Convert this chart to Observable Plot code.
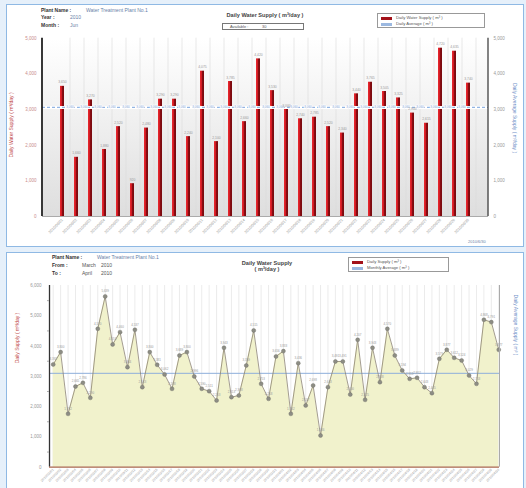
<!DOCTYPE html>
<html><head><meta charset="utf-8">
<script src="https://cdn.jsdelivr.net/npm/d3@7"></script>
<script src="https://cdn.jsdelivr.net/npm/@observablehq/plot@0.6"></script>
<style>
body{margin:0;width:526px;height:488px;overflow:hidden;background:#e6f0fa;font-family:Arial,"Liberation Sans",sans-serif;position:relative}
.frame{position:absolute;background:#fff;border:1.5px solid #8fb9e4;box-sizing:border-box}
.t{position:absolute;font-size:5px;color:#555;white-space:nowrap;line-height:1}
.b{font-weight:bold;color:#333}
.v{color:#6a7fa8}
.ttl{position:absolute;font-size:5.6px;font-weight:bold;color:#444;white-space:nowrap;text-align:center;line-height:1.1}
.lg{position:absolute;border:1px solid #999;background:#fff;box-sizing:border-box}
.lg div{font-size:4.2px;color:#555;white-space:nowrap;line-height:6px;height:6px;display:flex;align-items:center}
.sw{display:inline-block;width:11px;height:3px;margin:0 4px 0 3px}
.rot{position:absolute;font-size:5px;white-space:nowrap;transform-origin:center center}
svg.chart{position:absolute;left:0}
</style></head>
<body>
<div class="frame" style="left:6px;top:4px;width:518px;height:243px"></div>
<div class="frame" style="left:6px;top:252px;width:518px;height:240px"></div>

<!-- top header -->
<div class="t b" style="left:41px;top:8px">Plant Name :</div>
<div class="t v" style="left:86px;top:8px">Water Treatment Plant No.1</div>
<div class="t b" style="left:41px;top:15px">Year :</div>
<div class="t v" style="left:70px;top:15px">2010</div>
<div class="t b" style="left:41px;top:23px">Month :</div>
<div class="t v" style="left:70px;top:23px">Jun</div>
<div class="ttl" style="left:212px;top:12px;width:106px">Daily Water Supply ( m³/day )</div>
<div style="position:absolute;left:222px;top:23px;width:82px;height:7px;border:1px solid #777;box-sizing:border-box;background:#fff"></div>
<div class="t" style="left:230px;top:24.5px;font-size:4px">Available :</div>
<div class="t" style="left:262px;top:24.5px;font-size:4px">30</div>
<div class="lg" style="left:377px;top:13px;width:108px;height:15px;padding-top:1px">
  <div><span class="sw" style="background:#a3121a"></span>Daily Water Supply ( m³ )</div>
  <div><span class="sw" style="background:#9bb8e0"></span>Daily Average ( m³ )</div>
</div>
<div class="rot" style="left:-22px;top:122px;color:#c04848;transform:rotate(-90deg)">Daily Water Supply ( m³/day )</div>
<div class="rot" style="left:480px;top:115px;color:#6f8fc8;transform:rotate(90deg)">Daily Average Supply ( m³/day )</div>
<div class="t" style="left:468px;top:240px;font-size:4px;color:#6a7fa8">2010/6/30</div>

<!-- bottom header -->
<div class="t b" style="left:52px;top:255px">Plant Name :</div>
<div class="t v" style="left:97px;top:255px">Water Treatment Plant No.1</div>
<div class="t b" style="left:52px;top:263px">From :</div>
<div class="t" style="left:82px;top:263px">March</div>
<div class="t" style="left:101px;top:263px">2010</div>
<div class="t b" style="left:52px;top:271px">To :</div>
<div class="t" style="left:82px;top:271px">April</div>
<div class="t" style="left:101px;top:271px">2010</div>
<div class="ttl" style="left:225px;top:260px;width:84px">Daily Water Supply<br>( m³/day )</div>
<div class="lg" style="left:348px;top:257px;width:101px;height:15px;padding-top:1px">
  <div><span class="sw" style="background:#a3121a"></span>Daily Supply ( m³ )</div>
  <div><span class="sw" style="background:#9bb8e0"></span>Monthly Average ( m³ )</div>
</div>
<div class="rot" style="left:-8px;top:335px;color:#c04848;transform:rotate(-90deg)">Daily Supply ( m³/day )</div>
<div class="rot" style="left:486px;top:322px;color:#6f8fc8;transform:rotate(90deg)">Daily Average Supply ( m³ )</div>

<div id="top"></div>
<div id="bot"></div>
<script>
// ---------- data ----------
const topDates = [];
for (let d = 1; d <= 30; d++) topDates.push(`2010/06/${String(d).padStart(2,"0")}`);
const topValues = [3650,1660,3270,1880,2520,920,2480,3290,3290,2240,4075,2100,3785,2660,4420,
                   3530,3000,2740,2785,2520,2340,3440,3765,3505,3325,2900,2615,4720,4635,3740];
const topAvg = 3060;
const topTicks = [0,1000,2000,3000,4000,5000];

const botDates = [];
for (let d = 1; d <= 31; d++) botDates.push(`2010/03/${String(d).padStart(2,"0")}`);
for (let d = 1; d <= 30; d++) botDates.push(`2010/04/${String(d).padStart(2,"0")}`);
const botValues = [3392,3800,1762,2665,2786,2290,4570,5639,4053,4460,3304,4537,2643,3800,3381,
                   3062,2588,3689,3800,2996,2590,2511,2203,3943,2313,2368,3359,4515,2753,2258,
                   3656,3833,1762,3436,2037,2698,1046,2643,3491,3491,2400,4207,2225,3943,2808,
                   4570,3689,3194,2918,2952,2643,2445,3579,3877,3612,3524,3029,2753,4868,4791,3877];
const botAvg = 3100;
const botTicks = [0,1000,2000,3000,4000,5000,6000];
const botMinor = [500,1500,2500,3500,4500,5500];

// ---------- top chart ----------
const topData = topDates.map((date, i) => ({date, value: topValues[i]}));
const pIn = 0.7, pOut = 0.23;
const topChart = Plot.plot({
  width: 526, height: 248,
  marginLeft: 42, marginRight: 38, marginTop: 37.7, marginBottom: 32,
  style: {background: "transparent", fontFamily: "Arial, Liberation Sans, sans-serif", fontSize: "4.5px", color: "#999", overflow: "visible"},
  x: {domain: topDates, paddingInner: pIn, paddingOuter: pOut, label: null},
  y: {domain: [0, 5000], label: null},
  marks: [
    Plot.frame({fill: "url(#bgGrad)", stroke: null}),
    Plot.ruleX(topDates, {x: d => d, stroke: "#dadada", strokeWidth: 0.6, dx: 7.5}),
    Plot.barY(topData, {x: "date", y: "value", fill: "url(#barGrad)"}),
    Plot.ruleY([topAvg], {stroke: "white", strokeWidth: 3}),
    Plot.ruleY([topAvg], {stroke: "#93b5e3", strokeWidth: 1.2, strokeDasharray: "3,2"}),
    Plot.text(topDates.slice(0, -1), {x: d => d, y: () => topAvg, text: () => topAvg, dx: 7.5, fontSize: 3, fill: "#7fa3d6", stroke: "white", strokeWidth: 1.2}),
    Plot.text(topData, {x: "date", y: "value", text: d => d.value, dy: -4, fontSize: 3.4, fill: "#999"}),
    Plot.ruleY([0], {stroke: "#999", strokeWidth: 0.8}),
    Plot.axisY({anchor: "left", ticks: topTicks, tickSize: 0, tickPadding: 6, fill: "#c98c8c", label: null}),
    Plot.axisY({anchor: "right", ticks: topTicks, tickSize: 0, tickPadding: 5, fill: "#999", label: null}),
    Plot.axisX({tickRotate: -45, tickSize: 0, tickPadding: 3, fontSize: 3.8, fill: "#9a9a9a", label: null})
  ]
});
topChart.classList.add("chart");
topChart.style.top = "0px";
{
  const svg = d3.select(topChart);
  const defs = svg.insert("defs", ":first-child");
  const bg = defs.append("linearGradient").attr("id", "bgGrad").attr("x1", 0).attr("y1", 0).attr("x2", 0).attr("y2", 1);
  bg.append("stop").attr("offset", "0%").attr("stop-color", "#ffffff");
  bg.append("stop").attr("offset", "100%").attr("stop-color", "#dedede");
  const bar = defs.append("linearGradient").attr("id", "barGrad").attr("x1", 0).attr("y1", 0).attr("x2", 1).attr("y2", 0);
  bar.append("stop").attr("offset", "0%").attr("stop-color", "#ec2a30");
  bar.append("stop").attr("offset", "40%").attr("stop-color", "#d01a22");
  bar.append("stop").attr("offset", "55%").attr("stop-color", "#8a0c12");
  bar.append("stop").attr("offset", "100%").attr("stop-color", "#760a0e");
  const xr = topChart.scale("x").range, yr = topChart.scale("y").range;
  svg.append("line").attr("x1", xr[0]).attr("x2", xr[0]).attr("y1", yr[0]).attr("y2", yr[1]).attr("stroke", "#222").attr("stroke-width", 1.8);
  svg.append("line").attr("x1", xr[1]).attr("x2", xr[1]).attr("y1", yr[0]).attr("y2", yr[1]).attr("stroke", "#333").attr("stroke-width", 1.2);
}
document.getElementById("top").appendChild(topChart);

// ---------- bottom chart ----------
const botData = botValues.map((value, i) => ({i, value, date: botDates[i]}));
const idx = botData.map(d => d.i);
const botChart = Plot.plot({
  width: 526, height: 238,
  marginLeft: 49, marginRight: 27, marginTop: 35, marginBottom: 21.3,
  style: {background: "transparent", fontFamily: "Arial, Liberation Sans, sans-serif", fontSize: "4.5px", color: "#999", overflow: "visible"},
  x: {type: "linear", domain: [-0.5, 60.1], label: null},
  y: {type: "linear", domain: [0, 6000], label: null},
  marks: [
    Plot.ruleX(idx, {x: d => d, stroke: "#dedede", strokeWidth: 0.6}),
    Plot.areaY(botData, {x: "i", y: "value", fill: "#f1f2cc"}),
    Plot.ruleY([botAvg], {stroke: "#8eaedb", strokeWidth: 1}),
    Plot.lineY(botData, {x: "i", y: "value", stroke: "#8c8372", strokeWidth: 0.8}),
    Plot.dot(botData, {x: "i", y: "value", r: 2, fill: "#8d8d84", stroke: "#6f6f68", strokeWidth: 0.4}),
    Plot.text(botData, {x: "i", y: "value", text: d => d.value, dy: -5, fontSize: 3, fill: "#999"}),
    Plot.ruleX([-0.5], {x: d => d, stroke: "#333", strokeWidth: 1.3}),
    Plot.ruleX([60.1], {x: d => d, stroke: "#aaa", strokeWidth: 1}),
    Plot.ruleY([0], {stroke: "#a8664c", strokeWidth: 1.2}),
    Plot.axisY({anchor: "left", ticks: botTicks, tickSize: 0, tickPadding: 8, fill: "#999", label: null}),
    Plot.axisY({anchor: "left", ticks: botMinor, tickSize: 2, text: null, stroke: "#aaa", label: null}),
    Plot.axisX({ticks: idx, tickFormat: i => botDates[i], tickRotate: -45, tickSize: 0, tickPadding: 2, fontSize: 3.4, fill: "#9a9a9a", label: null})
  ]
});
botChart.classList.add("chart");
botChart.style.top = "250px";
document.getElementById("bot").appendChild(botChart);
</script>
</body></html>
